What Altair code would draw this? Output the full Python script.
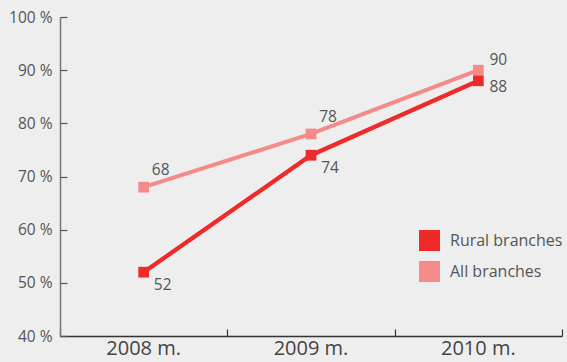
import altair as alt
import pandas as pd
import json

years = ["2008 m.", "2009 m.", "2010 m."]
series = ["Rural branches", "All branches"]
rural = [52, 74, 88]
all_branches = [68, 78, 90]
colors = ["#ef2a2a", "#f48b88"]
y_ticks = [40, 50, 60, 70, 80, 90, 100]

df = pd.DataFrame({
    "year": years * 2,
    "series": [series[0]] * 3 + [series[1]] * 3,
    "value": rural + all_branches,
})

FONT = "Open Sans"
TEXT = "#555555"

legend = alt.Legend(
    title=None, orient="none", legendX=359, legendY=213,
    symbolType="square", symbolSize=441, symbolStrokeWidth=0,
    symbolOpacity=1, labelFontSize=16, labelColor=TEXT, labelFont=FONT,
    rowPadding=10, labelOffset=10,
)
color = alt.Color("series:N", scale=alt.Scale(domain=series, range=colors), legend=legend)

x_scale = alt.Scale(type="band", domain=years, paddingInner=0, paddingOuter=0)
y_scale = alt.Scale(domain=[40, 100], nice=False, zero=False)

# main axes: domain lines and labels, no ticks
x_main = alt.X("year:N", scale=x_scale, title=None, axis=alt.Axis(
    orient="bottom", ticks=False, domainColor="#333333", domainWidth=1.5,
    labelFontSize=20, labelColor="#444444", labelFont=FONT, labelPadding=2,
    labelAngle=0, grid=False))
y_main = alt.Y("value:Q", scale=y_scale, title=None, axis=alt.Axis(
    orient="left", values=y_ticks, labelExpr="datum.value + ' %'", ticks=False,
    domainColor="#777777", domainWidth=1.5, labelFontSize=15.5, labelColor=TEXT,
    labelFont=FONT, labelPadding=8, grid=False))

# second axes drawing inward-pointing ticks only
x_ticks_ax = alt.X("year:N", scale=x_scale, title=None, axis=alt.Axis(
    orient="bottom", domain=False, labels=False, ticks=True, tickSize=7,
    tickBand="extent", tickColor="#333333", tickWidth=1.2, offset=-7, grid=False))
y_ticks_ax = alt.Y("value:Q", scale=y_scale, title=None, axis=alt.Axis(
    orient="left", values=y_ticks, domain=False, labels=False, ticks=True,
    tickSize=7, tickColor="#555555", tickWidth=1.2, offset=-7, grid=False))

base = alt.Chart(df)

all_line = base.transform_filter(alt.datum.series == series[1]).mark_line(strokeWidth=4).encode(
    x=x_main, y=y_main, color=color)
rural_line = base.transform_filter(alt.datum.series == series[0]).mark_line(strokeWidth=4.3).encode(
    x=x_ticks_ax, y=y_ticks_ax, color=color)

x_plain = alt.X("year:N", scale=x_scale, axis=None)
y_plain = alt.Y("value:Q", scale=y_scale, axis=None)

all_pts = base.transform_filter(alt.datum.series == series[1]).mark_point(
    shape="square", filled=True, size=115, opacity=1).encode(x=x_plain, y=y_plain, color=color)
rural_pts = base.transform_filter(alt.datum.series == series[0]).mark_point(
    shape="square", filled=True, size=115, opacity=1).encode(x=x_plain, y=y_plain, color=color)


def labels(name, yrs, dx, dy):
    expr = f"datum.series === {json.dumps(name)} && indexof({json.dumps(yrs)}, datum.year) >= 0"
    return base.transform_filter(expr).mark_text(
        align="center", baseline="middle", dx=dx, dy=dy, fontSize=15.5,
        font=FONT, color=TEXT).encode(x=x_plain, y=y_plain, text=alt.Text("value:Q"))


chart = alt.layer(
    all_line, rural_line, all_pts, rural_pts,
    labels(series[1], years[:2], 17, -17),
    labels(series[1], years[2:], 20, -10),
    labels(series[0], years[:2], 19, 13),
    labels(series[0], years[2:], 20, 6),
).resolve_axis(x="independent", y="independent").properties(
    width=502, height=319,
    autosize=alt.AutoSizeParams(type="none"),
    padding={"left": 60, "top": 17, "right": 5, "bottom": 26},
    background="#eeeeee",
).configure_view(stroke=None)

chart.save("out.html", embed_options={"renderer": "svg", "actions": False})
